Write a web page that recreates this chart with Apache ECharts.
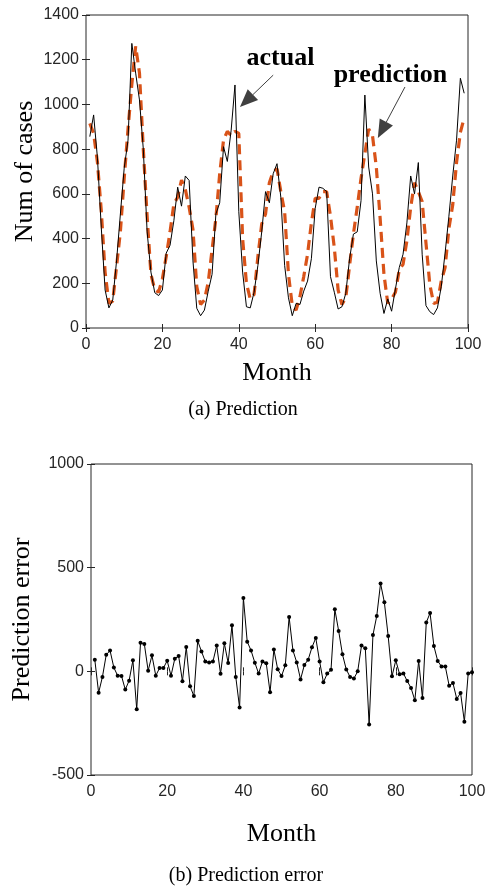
<!DOCTYPE html>
<html><head><meta charset="utf-8">
<script src="https://cdn.jsdelivr.net/npm/echarts@6/dist/echarts.min.js"></script>
<style>html,body{margin:0;padding:0;background:#fff}#c{width:486px;height:887px}</style>
</head><body><div id="c"></div>
<script>
// ---- data ----
const months = [1,2,3,4,5,6,7,8,9,10,11,12,13,14,15,16,17,18,19,20,21,22,23,24,25,26,27,28,29,30,31,32,33,34,35,36,37,38,39,40,41,42,43,44,45,46,47,48,49,50,51,52,53,54,55,56,57,58,59,60,61,62,63,64,65,66,67,68,69,70,71,72,73,74,75,76,77,78,79,80,81,82,83,84,85,86,87,88,89,90,91,92,93,94,95,96,97,98,99];
const errorMonths = [1,2,3,4,5,6,7,8,9,10,11,12,13,14,15,16,17,18,19,20,21,22,23,24,25,26,27,28,29,30,31,32,33,34,35,36,37,38,39,40,41,42,43,44,45,46,47,48,49,50,51,52,53,54,55,56,57,58,59,60,61,62,63,64,65,66,67,68,69,70,71,72,73,74,75,76,77,78,79,80,81,82,83,84,85,86,87,88,89,90,91,92,93,94,95,96,97,98,99,100];
const actual = [856,953,760,450,170,90,125,300,510,715,840,1273,1140,1020,800,430,250,158,145,170,335,370,480,630,545,680,660,300,88,55,80,165,240,510,560,811,745,885,1087,520,250,95,90,160,280,430,610,560,690,735,585,280,135,55,110,105,165,210,310,535,630,625,610,230,160,85,95,155,310,420,430,570,1042,720,600,300,155,65,130,75,175,270,330,470,680,600,740,330,100,73,60,90,185,335,500,680,840,1117,1050];
const prediction = [915,870,740,525,250,110,120,275,430,670,890,1090,1260,1140,800,500,240,172,160,220,320,430,555,585,662,620,540,440,185,105,125,205,350,490,690,840,880,860,880,870,400,200,130,150,320,465,510,650,700,712,610,520,240,100,80,140,230,330,470,580,580,610,610,500,360,170,105,135,280,420,540,670,780,890,860,720,490,240,110,130,160,260,285,390,540,650,610,565,380,195,110,115,210,270,445,550,740,875,940];
const predError = [56,-103,-27,80,100,18,-21,-22,-88,-45,53,-183,138,132,3,77,-21,16,16,51,-21,61,74,-48,117,-72,-119,147,96,47,43,47,124,-12,135,40,222,-27,-175,354,143,101,42,-11,48,39,-101,105,10,-23,29,262,101,43,-39,31,56,116,161,48,-53,-11,8,299,195,82,9,-27,-35,0,124,111,-257,175,267,424,333,170,-24,53,-14,-10,-47,-80,-140,50,-129,236,281,122,50,23,23,-69,-56,-133,-104,-243,-10,-5];
const xTicks = {min:0, max:100, interval:20};
const yTicksTop = {min:0, max:1400, interval:200};
const yTicksBottom = {min:-500, max:1000, interval:500};
const annotations = [
  {text:'actual', textAt:[50.9,1208], from:[49,1131], to:[40.3,988]},
  {text:'prediction', textAt:[79.7,1132], from:[83.5,1078], to:[76.4,850]}
];

// ---- chart ----
const AX = '#262626';
const sans = 'Liberation Sans';
const serif = 'Liberation Serif';
const chart = echarts.init(document.getElementById('c'), null, {renderer:'canvas'});
const plain = v => String(v);

function xAx(grid, pos, name, gap){
  return {type:'value', gridIndex:grid, position:pos, ...xTicks,
    axisLine:{show:false}, splitLine:{show:false},
    axisTick:{show:true, inside:true, length:4, lineStyle:{color:AX}},
    axisLabel:{show:pos==='bottom', color:AX, fontFamily:sans, fontSize:16, margin:9, formatter:plain},
    name: name||'', nameLocation:'middle', nameGap:gap||0, nameMoveOverlap:false,
    nameTextStyle:{fontFamily:serif, fontSize:26, color:'#000'}};
}
function yAx(grid, pos, t, name, gap){
  return {type:'value', gridIndex:grid, position:pos, ...t,
    axisLine:{show:false}, splitLine:{show:false},
    axisTick:{show:true, inside:true, length:4, lineStyle:{color:AX}},
    axisLabel:{show:pos==='left', color:AX, fontFamily:sans, fontSize:16, margin:7, formatter:plain},
    name: name||'', nameLocation:'middle', nameGap:gap||0, nameRotate:90, nameMoveOverlap:false,
    nameTextStyle:{fontFamily:serif, fontSize:26, color:'#000'}};
}

const option = {
  animation:false,
  backgroundColor:'#fff',
  grid:[
    {left:86, top:15, width:382, height:313, show:true, borderColor:AX, borderWidth:1, containLabel:false, outerBoundsMode:'none'},
    {left:91, top:464, width:381, height:311, show:true, borderColor:AX, borderWidth:1, containLabel:false, outerBoundsMode:'none'}
  ],
  xAxis:[
    xAx(0,'bottom','Month',32), xAx(0,'top'),
    xAx(1,'bottom','Month',46), xAx(1,'top')
  ],
  yAxis:[
    yAx(0,'left',yTicksTop,'Num of cases',48), yAx(0,'right',yTicksTop),
    yAx(1,'left',yTicksBottom,'Prediction error',56), yAx(1,'right',yTicksBottom)
  ],
  series:[
    {type:'line', name:'prediction', xAxisIndex:0, yAxisIndex:0, z:2,
     data: months.map((m,i)=>[m, prediction[i]]), showSymbol:false, symbol:'none',
     lineStyle:{color:'#D95319', width:3.2, type:[10,6]}},
    {type:'line', name:'actual', xAxisIndex:0, yAxisIndex:0, z:3,
     data: months.map((m,i)=>[m, actual[i]]), showSymbol:false, symbol:'none',
     lineStyle:{color:'#000', width:1}},
    {type:'line', name:'error', xAxisIndex:2, yAxisIndex:2, z:3,
     data: errorMonths.map((m,i)=>[m, predError[i]]), symbol:'circle', symbolSize:4, showSymbol:true,
     itemStyle:{color:'#000'}, lineStyle:{color:'#000', width:1}}
  ]
};
chart.setOption(option);

// annotations, positioned through the axes' scales
const g = [];
const toPx = p => chart.convertToPixel({xAxisIndex:0, yAxisIndex:0}, p);
annotations.forEach(a=>{
  const s = toPx(a.from), t = toPx(a.to), c = toPx(a.textAt);
  const dx=t[0]-s[0], dy=t[1]-s[1], L=Math.hypot(dx,dy), ux=dx/L, uy=dy/L;
  const hl=18, hw=15;
  const b=[t[0]-ux*hl, t[1]-uy*hl], nx=-uy, ny=ux;
  g.push({type:'line', shape:{x1:s[0],y1:s[1],x2:b[0],y2:b[1]}, style:{stroke:'#404040', lineWidth:1}, z:10});
  g.push({type:'polygon', shape:{points:[t,[b[0]+nx*hw/2,b[1]+ny*hw/2],[b[0]-nx*hw/2,b[1]-ny*hw/2]]}, style:{fill:'#404040'}, z:10});
  g.push({type:'text', x:c[0], y:c[1], style:{text:a.text, fontFamily:serif, fontWeight:'bold', fontSize:26, fill:'#000', align:'center', verticalAlign:'middle'}, z:10});
});
g.push({type:'text', x:243, y:410, style:{text:'(a) Prediction', fontFamily:serif, fontSize:20, fill:'#000', align:'center', verticalAlign:'middle'}});
g.push({type:'text', x:246, y:876, style:{text:'(b) Prediction error', fontFamily:serif, fontSize:20, fill:'#000', align:'center', verticalAlign:'middle'}});
chart.setOption({graphic:g});
</script></body></html>
